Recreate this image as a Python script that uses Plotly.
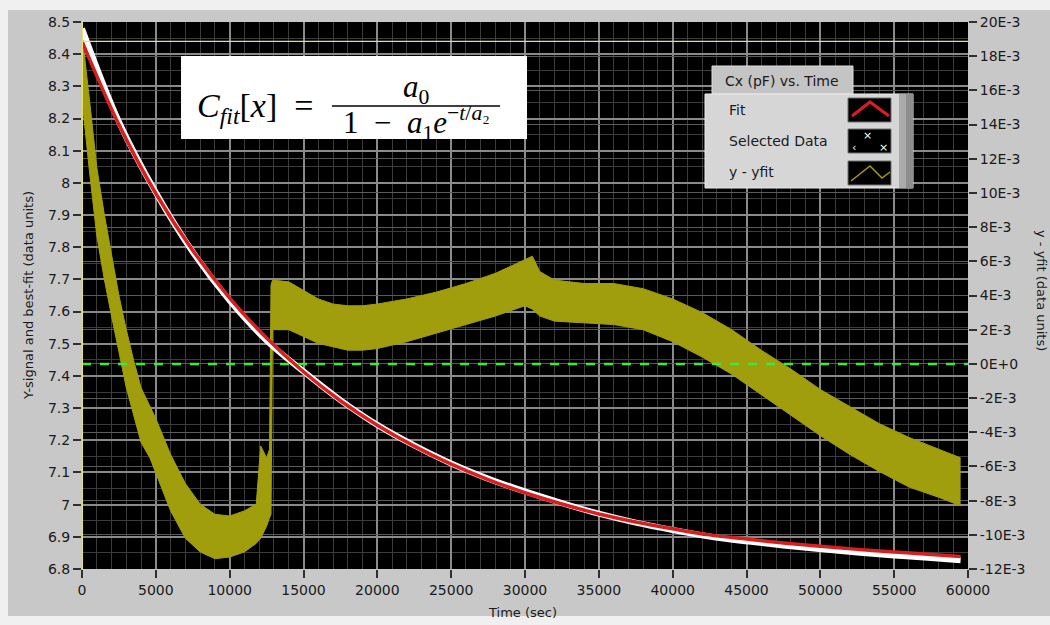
import plotly.graph_objects as go

# ---- capacitance signal and its best fit (pF) vs time (s) ----
t_sig = [0, 2500, 5000, 7500, 10000, 12500, 15000, 17500, 20000, 22500, 25000,
         27500, 30000, 32500, 35000, 37500, 40000, 42500, 45000, 47500, 50000,
         52500, 55000, 57500, 59500]
fit_pf = [8.440, 8.181, 7.967, 7.790, 7.642, 7.518, 7.413, 7.323, 7.247, 7.182,
          7.126, 7.078, 7.037, 7.002, 6.971, 6.946, 6.925, 6.906, 6.893, 6.881,
          6.871, 6.861, 6.853, 6.845, 6.839]
data_pf = [8.480, 8.190, 7.970, 7.785, 7.634, 7.510, 7.414, 7.325, 7.248, 7.184,
           7.128, 7.081, 7.041, 7.005, 6.972, 6.944, 6.921, 6.901, 6.886, 6.873,
           6.862, 6.851, 6.842, 6.834, 6.827]

# ---- residual y - yfit: upper / lower envelope of the noisy band ----
t_res = [0, 250, 500, 1000, 1500, 2000, 2500, 3000, 3500, 4000, 4600, 5000, 6000,
         7000, 8000, 9000, 10000, 11000, 11800, 12100, 12500, 12700, 12800, 12900,
         14000, 15000, 16000, 17000, 18000, 19000, 20000, 22000, 24000, 26000,
         28000, 29000, 30000, 30500, 31000, 32000, 34000, 36000, 38000, 40000,
         42000, 44000, 46000, 48000, 50000, 52000, 54000, 56000, 58000, 59500]
res_hi = [19.3, 17.5, 15.5, 11.5, 8.8, 6.4, 4.0, 2.0, 0.2, -1.4, -2.5, -3.2, -5.3,
          -7.0, -8.2, -8.8, -8.9, -8.6, -8.2, -4.8, -5.5, -5.0, 4.6, 4.9,
          4.8, 4.3, 3.8, 3.5, 3.4, 3.4, 3.5, 3.8, 4.2, 4.7,
          5.3, 5.7, 6.1, 6.3, 5.4, 4.9, 4.7, 4.7, 4.4, 3.8,
          3.0, 2.0, 0.8, -0.3, -1.5, -2.5, -3.5, -4.3, -5.0, -5.5]
res_lo = [15.5, 13.3, 11.3, 7.5, 5.0, 2.8, 0.6, -1.4, -3.0, -4.6, -5.5, -6.4, -8.6,
          -10.2, -11.0, -11.4, -11.3, -11.0, -10.5, -10.2, -9.5, -9.0, -8.8, 2.0,
          2.0, 1.6, 1.2, 1.0, 0.8, 0.8, 0.9, 1.3, 1.8, 2.3,
          2.8, 3.1, 3.4, 3.2, 2.8, 2.5, 2.4, 2.3, 2.0, 1.3,
          0.4, -0.6, -1.8, -3.0, -4.2, -5.3, -6.3, -7.2, -7.8, -8.3]
res_scale = 1e-3  # envelope values are in E-3 units

# ---- axes ----
x_ticks = [0, 5000, 10000, 15000, 20000, 25000, 30000, 35000, 40000, 45000,
           50000, 55000, 60000]
x_tick_text = ["0", "5000", "10000", "15000", "20000", "25000", "30000", "35000",
               "40000", "45000", "50000", "55000", "60000"]
sig_range = [6.8, 8.5]
res_ticks = [0.020, 0.018, 0.016, 0.014, 0.012, 0.010, 0.008, 0.006, 0.004, 0.002,
             0.0, -0.002, -0.004, -0.006, -0.008, -0.010, -0.012]
res_tick_text = ["20E-3", "18E-3", "16E-3", "14E-3", "12E-3", "10E-3", "8E-3",
                 "6E-3", "4E-3", "2E-3", "0E+0", "-2E-3", "-4E-3", "-6E-3",
                 "-8E-3", "-10E-3", "-12E-3"]
res_range = [-0.012, 0.020]
zero_level = 0.0

# cursor sits on the first point of the fit
cursor_t = t_sig[0]
cursor_y = fit_pf[0]

FONT = "DejaVu Sans, Liberation Sans, sans-serif"
SERIF = "Liberation Serif, DejaVu Serif, serif"
W, H = 1050, 625
ML, MR, MT, MB = 82, 82, 22, 56
PW, PH = W - ML - MR, H - MT - MB


def px(x):
    return (x - ML) / PW


def py(y):
    return 1 - (y - MT) / PH


OLIVE = "#a09e0c"
SP = "\u2002"  # en space for math spacing

fig = go.Figure()

# residual band (primary y axis, right side)
fig.add_trace(go.Scatter(
    x=t_res, y=[v * res_scale for v in res_hi], mode="lines",
    line=dict(color=OLIVE, width=1), hoverinfo="skip", showlegend=False,
    yaxis="y"))
fig.add_trace(go.Scatter(
    x=t_res, y=[v * res_scale for v in res_lo], mode="lines",
    line=dict(color=OLIVE, width=1), fill="tonexty", fillcolor=OLIVE,
    name="y - yfit", showlegend=False, yaxis="y"))

# selected data and fit (overlaying left axis)
fig.add_trace(go.Scatter(
    x=t_sig, y=data_pf, mode="lines", line=dict(color="white", width=6, shape="spline"),
    name="Selected Data", showlegend=False, yaxis="y2"))
fig.add_trace(go.Scatter(
    x=t_sig, y=fit_pf, mode="lines", line=dict(color="#d81e1e", width=3.5, shape="spline"),
    name="Fit", showlegend=False, yaxis="y2"))

shapes = []
annotations = []

# zero reference of the residual
shapes.append(dict(type="line", xref="paper", x0=0, x1=1, yref="y", y0=zero_level,
                   y1=zero_level, line=dict(color="#3ee83e", width=2.5, dash="dash"),
                   layer="above"))
# cursor lines
shapes.append(dict(type="line", xref="paper", x0=0, x1=1, yref="y2", y0=cursor_y,
                   y1=cursor_y, line=dict(color="#e8e070", width=1.2), layer="above"))
shapes.append(dict(type="line", xref="x", x0=cursor_t, x1=cursor_t, yref="paper",
                   y0=0, y1=1, line=dict(color="#e8e070", width=2), layer="above"))

# light frame strips around the grey panel
for x0, y0, x1, y1 in [(0, 0, W, 10), (0, 0, 8, H), (0, 616, W, H)]:
    shapes.append(dict(type="rect", xref="paper", yref="paper", x0=px(x0), x1=px(x1),
                       y0=py(y1), y1=py(y0), fillcolor="#f0f0f0", line=dict(width=0),
                       layer="below"))

# formula box
shapes.append(dict(type="rect", xref="paper", yref="paper", x0=px(181), x1=px(527),
                   y0=py(139), y1=py(56), fillcolor="white", line=dict(width=0),
                   layer="above"))
shapes.append(dict(type="line", xref="paper", yref="paper", x0=px(332), x1=px(500),
                   y0=py(106), y1=py(106), line=dict(color="black", width=1.5),
                   layer="above"))
annotations.append(dict(xref="paper", yref="paper", x=px(195), y=py(108),
                        xanchor="left", yanchor="middle", showarrow=False,
                        text=f"<i>C</i><sub><i>fit</i></sub>[<i>x</i>]{SP}=",
                        font=dict(family=SERIF, size=34, color="black")))
annotations.append(dict(xref="paper", yref="paper", x=px(416), y=py(89),
                        xanchor="center", yanchor="middle", showarrow=False,
                        text="<i>a</i><sub>0</sub>",
                        font=dict(family=SERIF, size=31, color="black")))
annotations.append(dict(xref="paper", yref="paper", x=px(416), y=py(147),
                        xanchor="center", yanchor="bottom", showarrow=False,
                        text=f"1{SP}−{SP}<i>a</i><sub>1</sub><i>e</i><sup>−<i>t</i>/<i>a</i>₂</sup>",
                        font=dict(family=SERIF, size=31, color="black")))

# plot legend panel
shapes.append(dict(type="rect", xref="paper", yref="paper", x0=px(712), x1=px(853),
                   y0=py(94), y1=py(66), fillcolor="#c4c4c4",
                   line=dict(color="#dcdcdc", width=1), layer="above"))
shapes.append(dict(type="rect", xref="paper", yref="paper", x0=px(705), x1=px(913),
                   y0=py(188), y1=py(94), fillcolor="#d6d6d6",
                   line=dict(color="#ececec", width=1), layer="above"))
shapes.append(dict(type="rect", xref="paper", yref="paper", x0=px(899), x1=px(913),
                   y0=py(188), y1=py(94), fillcolor="#ababab", line=dict(width=0),
                   layer="above"))
shapes.append(dict(type="rect", xref="paper", yref="paper", x0=px(906), x1=px(913),
                   y0=py(188), y1=py(94), fillcolor="#8e8e8e", line=dict(width=0),
                   layer="above"))
for top in (98, 129, 161):
    shapes.append(dict(type="rect", xref="paper", yref="paper", x0=px(848), x1=px(891),
                       y0=py(top + 24), y1=py(top), fillcolor="black",
                       line=dict(color="#707070", width=1), layer="above"))


def path(pts):
    return "M " + " L ".join(f"{px(a):.5f},{py(b):.5f}" for a, b in pts)


shapes.append(dict(type="path", xref="paper", yref="paper",
                   path=path([(852, 116), (870, 102), (889, 116)]),
                   line=dict(color="#d81e1e", width=3), layer="above"))
shapes.append(dict(type="path", xref="paper", yref="paper",
                   path=path([(851, 181), (870, 166), (882, 178), (890, 172)]),
                   line=dict(color=OLIVE, width=1.5), layer="above"))
for (mx, my, ch) in [(867, 135, "×"), (883, 147, "×"), (854, 147, "‹")]:
    annotations.append(dict(xref="paper", yref="paper", x=px(mx), y=py(my),
                            xanchor="center", yanchor="middle", showarrow=False,
                            text=ch, font=dict(family=FONT, size=11, color="white")))

annotations.append(dict(xref="paper", yref="paper", x=px(782), y=py(81),
                        xanchor="center", yanchor="middle", showarrow=False,
                        text="Cx (pF) vs. Time", font=dict(family=FONT, size=14, color="#1a1a1a")))
for label, yy in [("Fit", 110), ("Selected Data", 141), ("y - yfit", 172)]:
    annotations.append(dict(xref="paper", yref="paper", x=px(727), y=py(yy),
                            xanchor="left", yanchor="middle", showarrow=False,
                            text=label, font=dict(family=FONT, size=14, color="#1a1a1a")))

# axis titles
annotations.append(dict(xref="paper", yref="paper", x=px(28), y=py(296),
                        xanchor="center", yanchor="middle", showarrow=False, textangle=-90,
                        text="Y-signal and best-fit (data units)",
                        font=dict(family=FONT, size=13, color="#1a1a1a")))
annotations.append(dict(xref="paper", yref="paper", x=px(1041), y=py(290),
                        xanchor="center", yanchor="middle", showarrow=False, textangle=90,
                        text="y - yfit (data units)",
                        font=dict(family=FONT, size=13, color="#1a1a1a")))
annotations.append(dict(xref="paper", yref="paper", x=px(522), y=py(612),
                        xanchor="center", yanchor="middle", showarrow=False,
                        text="Time (sec)", font=dict(family=FONT, size=13, color="#1a1a1a")))

fig.update_layout(
    width=W, height=H,
    margin=dict(l=ML, r=MR, t=MT, b=MB, pad=0),
    paper_bgcolor="#c8c8c8", plot_bgcolor="black",
    showlegend=False,
    font=dict(family=FONT, size=14, color="#1a1a1a"),
    xaxis=dict(range=[0, 60000], tickvals=x_ticks, ticktext=x_tick_text,
               ticks="outside", ticklen=8,
               tickcolor="#303030", tickwidth=1.5, showgrid=True, gridcolor="#8a8a8a",
               gridwidth=1.5, zeroline=False, showline=False,
               minor=dict(dtick=1000, showgrid=True, gridcolor="#3c3c3c", gridwidth=1),
               tickfont=dict(size=14)),
    yaxis=dict(range=res_range, side="right", tickvals=res_ticks, ticktext=res_tick_text,
               ticks="outside", ticklen=8, tickcolor="#303030", tickwidth=1.5,
               showgrid=True, gridcolor="#5a5a5a", gridwidth=1, zeroline=False,
               showline=False, tickfont=dict(size=14)),
    yaxis2=dict(range=sig_range, side="left", overlaying="y", dtick=0.1, tick0=6.8,
                ticks="outside", ticklen=8, tickcolor="#303030", tickwidth=1.5,
                showgrid=True, gridcolor="#8a8a8a", gridwidth=1.5, zeroline=False,
                showline=False,
                minor=dict(dtick=0.05, showgrid=True, gridcolor="#3c3c3c", gridwidth=1),
                tickfont=dict(size=14)),
    shapes=shapes, annotations=annotations,
)

fig.write_html("out.html")
